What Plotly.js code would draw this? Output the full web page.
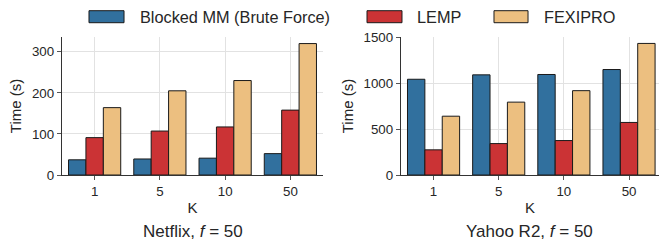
<!DOCTYPE html>
<html>
<head>
<meta charset="utf-8">
<script src="https://cdn.plot.ly/plotly-3.0.1.min.js"></script>
<style>html,body{margin:0;padding:0;background:#fff;}#chart{width:659px;height:243px;}</style>
</head>
<body>
<div id="chart"></div>
<script>
const categories = ['1', '5', '10', '50'];
const seriesNames = ['Blocked MM (Brute Force)', 'LEMP', 'FEXIPRO'];
const seriesColors = ['#31709e', '#cb3335', '#ecbf80'];
const netflixBlocked = [37, 39, 41, 52];
const netflixLemp = [91, 107, 117, 158];
const netflixFexipro = [164, 205, 230, 320];
const yahooBlocked = [1042, 1090, 1094, 1148];
const yahooLemp = [274, 342, 375, 572];
const yahooFexipro = [640, 793, 918, 1432];
const panelTitles = ['Netflix, <i>f</i> = 50', 'Yahoo R2, <i>f</i> = 50'];

const FONT = 'Liberation Sans, Arial, sans-serif';
const TXT = '#262626';

const netflix = [netflixBlocked, netflixLemp, netflixFexipro];
const yahoo = [yahooBlocked, yahooLemp, yahooFexipro];
const traces = [];
[netflix, yahoo].forEach((panel, p) => {
  panel.forEach((vals, i) => {
    traces.push({
      type: 'bar', x: categories, y: vals, name: seriesNames[i],
      xaxis: p === 0 ? 'x' : 'x2', yaxis: p === 0 ? 'y' : 'y2',
      marker: {color: seriesColors[i], line: {color: '#1a1a1a', width: 1}},
      showlegend: false, hoverinfo: 'skip'
    });
  });
});

const axisCommon = {
  showline: true, linecolor: '#333333', linewidth: 1.2,
  showgrid: true, gridcolor: '#e2e2e2', gridwidth: 1,
  zeroline: false, ticks: 'outside', ticklen: 4, tickcolor: '#555555', tickwidth: 1,
  tickfont: {family: FONT, size: 13.3, color: TXT}
};
const xCommon = Object.assign({}, axisCommon, {
  type: 'category', title: {text: 'K', font: {family: FONT, size: 15, color: TXT}, standoff: 4}
});
const yCommon = Object.assign({}, axisCommon, {
  title: {text: 'Time (s)', font: {family: FONT, size: 15, color: TXT}, standoff: 6}
});

const shapes = [];
const annotations = [];
const patchX = [[0.0452, 0.1039], [0.5109, 0.5695], [0.7236, 0.7806]];
const textX = [0.1273, 0.5913, 0.8040];
seriesNames.forEach((n, i) => {
  shapes.push({type: 'rect', xref: 'paper', yref: 'paper', x0: patchX[i][0], x1: patchX[i][1],
    y0: 1.1036, y1: 1.1906, fillcolor: seriesColors[i], line: {color: '#1a1a1a', width: 1}});
  annotations.push({xref: 'paper', yref: 'paper', x: textX[i], y: 1.1471, xanchor: 'left', yanchor: 'middle',
    text: n, showarrow: false, font: {family: FONT, size: 16.3, color: TXT}});
});
[0.2186, 0.7839].forEach((x, i) => {
  annotations.push({xref: 'paper', yref: 'paper', x: x, y: -0.4109, xanchor: 'center', yanchor: 'middle',
    text: panelTitles[i], showarrow: false, font: {family: FONT, size: 17, color: TXT}});
});

const layout = {
  width: 659, height: 243,
  margin: {l: 62, r: 0, t: 37, b: 68, pad: 0},
  paper_bgcolor: '#ffffff', plot_bgcolor: '#ffffff',
  barmode: 'group', bargap: 0.2, bargroupgap: 0,
  font: {family: FONT, color: TXT},
  xaxis: Object.assign({}, xCommon, {domain: [0, 0.4372], range: [-0.5, 3.5], anchor: 'y'}),
  xaxis2: Object.assign({}, xCommon, {domain: [0.5678, 1], range: [-0.5, 3.46], anchor: 'y2'}),
  yaxis: Object.assign({}, yCommon, {range: [0, 336], dtick: 100, anchor: 'x'}),
  yaxis2: Object.assign({}, yCommon, {range: [0, 1502], dtick: 500, anchor: 'x2'}),
  shapes: shapes, annotations: annotations, showlegend: false
};
Plotly.newPlot('chart', traces, layout, {displayModeBar: false, staticPlot: true});
</script>
</body>
</html>
